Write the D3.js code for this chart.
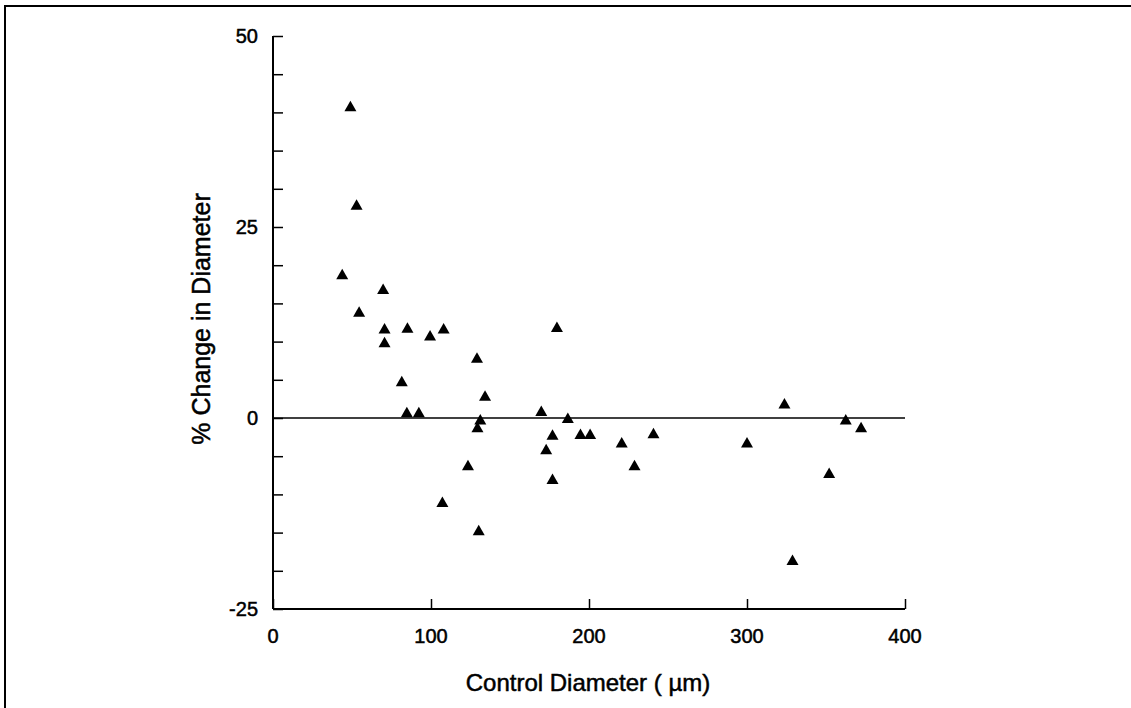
<!DOCTYPE html>
<html lang="en">
<head>
    <meta charset="UTF-8">
    <script src="https://d3js.org/d3.v7.min.js"></script>
    <style>
        body { margin: 0; background: #fff; }
        text { font-family: Arial, "Liberation Sans", sans-serif; fill: #000; stroke: #000; stroke-width: 0.5px; }
    </style>
</head>
<body>
    <svg id="chart" width="1131" height="708"></svg>
    <script>
        // control diameter (µm)
        const diameters = [49, 52.9, 43.8, 54.5, 69.7, 70.6, 70.6, 81.5, 84.7, 85.1,
            92.3, 99.4, 108, 107.2, 123.4, 129.1, 131.2, 129.4, 134.2, 130.2,
            169.8, 172.9, 176.9, 176.9, 179.7, 186.6, 194.6, 200.7, 220.7, 228.8,
            240.8, 300, 323.7, 328.8, 352, 362.5, 372.2];
        // % change in diameter
        const changes = [40.8, 27.9, 18.8, 13.9, 16.9, 11.7, 9.9, 4.8, 0.75, 11.8,
            0.75, 10.8, 11.7, -11.0, -6.2, 7.9, -0.2, -1.2, 2.9, -14.7,
            0.9, -4.1, -2.2, -8.0, 11.9, 0, -2.1, -2.1, -3.2, -6.2,
            -2.0, -3.2, 1.9, -18.6, -7.2, -0.2, -1.2];

        const xTicks = [0, 100, 200, 300, 400];
        const yTicks = [-25, -20, -15, -10, -5, 0, 5, 10, 15, 20, 25, 30, 35, 40, 45, 50];
        const yLabels = [-25, 0, 25, 50];

        const points = diameters.map((d, i) => ({ x: d, y: changes[i] }));

        const svg = d3.select("#chart");

        const x = d3.scaleLinear().domain([0, 400]).range([273, 905]);
        const y = d3.scaleLinear().domain([-25, 50]).range([609, 36]);

        // frame (top and left edges only)
        svg.append("path")
            .attr("d", "M5,708 L5,6 L1131,6")
            .attr("fill", "none")
            .attr("stroke", "#000")
            .attr("stroke-width", 2);

        // x axis, ticks pointing inward
        const xAxis = svg.append("g")
            .attr("transform", `translate(0,${y(-25)})`)
            .call(d3.axisTop(x).tickValues(xTicks).tickSize(10).tickFormat(""));
        xAxis.select(".domain").attr("d", `M${x(0)},0H${x(400)}`).attr("stroke-width", 2);
        xAxis.selectAll(".tick line").attr("stroke-width", 1.5);

        svg.append("g").selectAll("text")
            .data(xTicks)
            .enter().append("text")
            .attr("x", d => x(d))
            .attr("y", y(-25) + 34)
            .attr("text-anchor", "middle")
            .style("font-size", "20px")
            .text(d => d);

        // y axis, ticks pointing inward
        const yAxis = svg.append("g")
            .attr("transform", `translate(${x(0)},0)`)
            .call(d3.axisRight(y).tickValues(yTicks).tickSize(10).tickFormat(""));
        yAxis.select(".domain").attr("d", `M0,${y(50)}V${y(-25)}`).attr("stroke-width", 2);
        yAxis.selectAll(".tick line").attr("stroke-width", 1.5);

        svg.append("g").selectAll("text")
            .data(yLabels)
            .enter().append("text")
            .attr("x", x(0) - 15)
            .attr("y", d => y(d) + 7)
            .attr("text-anchor", "end")
            .style("font-size", "20px")
            .text(d => d);

        // zero line
        svg.append("line")
            .attr("x1", x(0)).attr("x2", x(400))
            .attr("y1", y(0)).attr("y2", y(0))
            .attr("stroke", "#000")
            .attr("stroke-width", 1.5);

        // triangles
        svg.append("g").selectAll("path")
            .data(points)
            .enter().append("path")
            .attr("transform", d => `translate(${x(d.x)},${y(d.y)})`)
            .attr("d", "M0,-5.5L6,5L-6,5Z")
            .attr("fill", "#000");

        // axis titles
        svg.append("text")
            .attr("x", 588)
            .attr("y", 691)
            .attr("text-anchor", "middle")
            .style("font-size", "24px")
            .text("Control Diameter ( \u00b5m)");

        svg.append("text")
            .attr("transform", "translate(210,319) rotate(-90)")
            .attr("text-anchor", "middle")
            .style("font-size", "25px")
            .text("% Change in Diameter");
    </script>
</body>
</html>
